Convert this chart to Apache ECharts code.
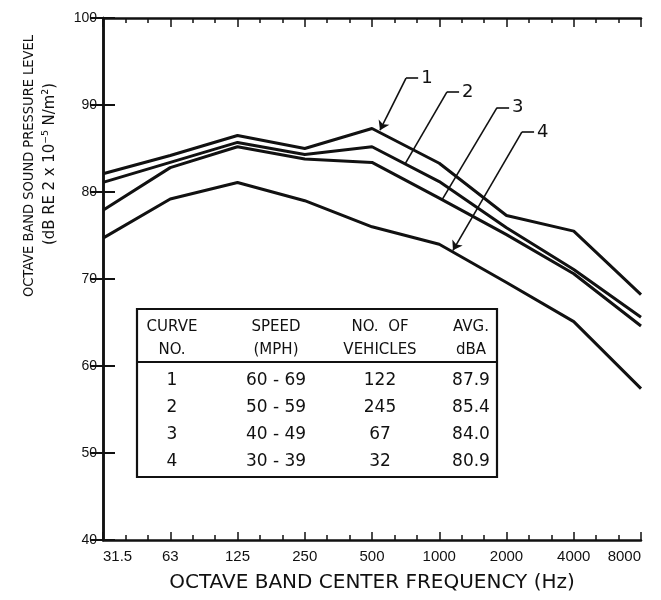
<!DOCTYPE html>
<html>
<head>
<meta charset="utf-8">
<script src="https://cdn.jsdelivr.net/npm/echarts@6/dist/echarts.min.js"></script>
<style>
  html, body { margin: 0; padding: 0; background: #fff; }
  #main { width: 661px; height: 600px; }
</style>
</head>
<body>
<div id="main"></div>
<script>
// octave band spectra, 4 speed groups

const freqLabels = ['31.5', '63', '125', '250', '500', '1000', '2000', '4000', '8000'];
const yTicks = [40, 100, 10];

const curve1 = [82.1, 84.2, 86.5, 85.0, 87.3, 83.3, 77.3, 75.5, 68.2];
const curve2 = [81.1, 83.4, 85.7, 84.3, 85.2, 81.2, 75.9, 71.1, 65.6];
const curve3 = [77.9, 82.8, 85.2, 83.8, 83.4, 79.3, 75.1, 70.6, 64.6];
const curve4 = [74.7, 79.2, 81.1, 79.0, 76.0, 74.0, 69.6, 65.1, 57.4];

// leader notes: label position and where the leader touches the curve
const noteLabels = ['1', '2', '3', '4'];
const noteAt = [[4.506, 93.1], [5.115, 91.5], [5.859, 89.7], [6.23, 86.9]];
const noteTip = [[4.119, 87.1], [4.49, 83.2], [5.041, 79.1], [5.204, 73.3]];
const noteArrow = [true, false, false, true];

// table
const tableHead = [['CURVE', 'NO.'], ['SPEED', '(MPH)'], ['NO.  OF', 'VEHICLES'], ['AVG.', 'dBA']];
const curveNos = ['1', '2', '3', '4'];
const speedRanges = ['60 - 69', '50 - 59', '40 - 49', '30 - 39'];
const vehicleCounts = [122, 245, 67, 32];
const avgDba = [87.9, 85.4, 84.0, 80.9];

const ink = '#111';
const font = '"Liberation Sans", Arial, sans-serif';
const wideFont = '"DejaVu Sans", "Liberation Sans", sans-serif';
const narrowFont = '"DejaVu Sans Condensed", "Liberation Sans Narrow", "Liberation Sans", sans-serif';

const chartDom = document.getElementById('main');
let chart = echarts.init(chartDom, null, { renderer: 'canvas' });

function toPairs(arr) {
    return arr.map((v, i) => [i, v]);
}

function noteMarks(k) {
    const at = noteAt[k];
    const tip = noteTip[k];
    return {
        silent: true,
        animation: false,
        symbol: 'none',
        lineStyle: { color: ink, width: 1.6, type: 'solid' },
        label: { show: false },
        data: [
            [
                { coord: at, symbol: 'none' },
                { coord: tip, symbol: noteArrow[k] ? 'arrow' : 'none', symbolSize: 9 }
            ],
            [
                { coord: at, symbol: 'none' },
                {
                    coord: [at[0] + 0.18, at[1]],
                    symbol: 'none',
                    label: {
                        show: true,
                        position: 'end',
                        formatter: noteLabels[k],
                        distance: 3,
                        color: ink,
                        fontSize: 18,
                        fontFamily: wideFont
                    }
                }
            ]
        ]
    };
}

const curves = [curve1, curve2, curve3, curve4];

let series = curves.map((c, k) => ({
    name: 'Curve ' + (k + 1),
    type: 'line',
    data: toPairs(c),
    showSymbol: false,
    animation: false,
    lineStyle: { color: ink, width: 3 },
    markLine: noteMarks(k)
}));

// table graphic
const tableX = 137, tableY = 309, tableW = 360, tableH = 168, headH = 53;
const colX = [35, 139, 243, 334];
const headY = [18, 41];
const rowY = [72, 99, 126, 153];

let tableChildren = [
    {
        type: 'rect',
        shape: { x: 0, y: 0, width: tableW, height: tableH },
        style: { fill: '#fff', stroke: ink, lineWidth: 2.2 }
    },
    {
        type: 'line',
        shape: { x1: 0, y1: headH, x2: tableW, y2: headH },
        style: { stroke: ink, lineWidth: 2.2 }
    }
];

tableHead.forEach((h, c) => {
    h.forEach((t, r) => {
        tableChildren.push({
            type: 'text',
            x: colX[c],
            y: headY[r],
            style: {
                text: t, fill: ink, font: '15px ' + wideFont,
                textAlign: 'center', textVerticalAlign: 'middle'
            }
        });
    });
});

const rowCols = [
    curveNos,
    speedRanges,
    vehicleCounts.map(String),
    avgDba.map(v => v.toFixed(1))
];

rowCols.forEach((col, c) => {
    col.forEach((t, r) => {
        tableChildren.push({
            type: 'text',
            x: colX[c],
            y: rowY[r],
            style: {
                text: t, fill: ink, font: '17px ' + wideFont,
                textAlign: 'center', textVerticalAlign: 'middle'
            }
        });
    });
});

let option = {
    backgroundColor: '#fff',
    grid: {
        left: 103,
        right: 20,
        top: 18,
        bottom: 60
    },
    xAxis: [
        {
            type: 'value',
            min: 0,
            max: freqLabels.length - 1,
            interval: 1,
            position: 'bottom',
            name: 'OCTAVE BAND CENTER FREQUENCY (Hz)',
            nameLocation: 'middle',
            nameGap: 33,
            nameTextStyle: { color: ink, fontSize: 20, fontFamily: wideFont },
            axisLine: { lineStyle: { color: ink, width: 2.5 } },
            axisTick: { inside: true, length: 8, lineStyle: { color: ink, width: 1.5 } },
            minorTick: { show: true, splitNumber: 3, length: 5, lineStyle: { color: ink, width: 1.5 } },
            axisLabel: {
                color: ink,
                fontSize: 15,
                fontFamily: font,
                margin: 9,
                alignMinLabel: 'left',
                alignMaxLabel: 'right',
                formatter: function (v) {
                    return freqLabels[Math.round(v)];
                }
            },
            splitLine: { show: false }
        },
        {
            type: 'value',
            min: 0,
            max: freqLabels.length - 1,
            interval: 1,
            position: 'top',
            axisLine: { lineStyle: { color: ink, width: 2.5 } },
            axisTick: { inside: true, length: 9, lineStyle: { color: ink, width: 1.5 } },
            minorTick: { show: true, splitNumber: 3, length: 5, lineStyle: { color: ink, width: 1.5 } },
            axisLabel: { show: false },
            splitLine: { show: false }
        }
    ],
    yAxis: [
        {
            type: 'value',
            min: yTicks[0],
            max: yTicks[1],
            interval: yTicks[2],
            position: 'left',
            axisLine: { show: true, lineStyle: { color: ink, width: 2.5 } },
            axisTick: { show: true, inside: true, length: 12, lineStyle: { color: ink, width: 2 } },
            axisLabel: { color: ink, fontSize: 14, fontFamily: font, margin: 6 },
            splitLine: { show: false }
        },
        {
            type: 'value',
            min: yTicks[0],
            max: yTicks[1],
            interval: yTicks[2],
            position: 'right',
            axisLine: { show: true, lineStyle: { color: ink, width: 2.5 } },
            axisTick: { show: true, inside: true, length: 12, lineStyle: { color: ink, width: 2 } },
            axisLabel: { show: false },
            splitLine: { show: false }
        }
    ],
    graphic: [
        {
            type: 'text',
            x: 29,
            y: 166,
            rotation: Math.PI / 2,
            style: {
                text: 'OCTAVE BAND SOUND PRESSURE LEVEL',
                fill: ink, font: '14.5px ' + narrowFont,
                textAlign: 'center', textVerticalAlign: 'middle'
            }
        },
        {
            type: 'text',
            x: 50,
            y: 164,
            rotation: Math.PI / 2,
            style: {
                text: '(dB RE 2 x 10\u207B\u2075 N/m\u00B2)',
                fill: ink, font: '16.5px ' + narrowFont,
                textAlign: 'center', textVerticalAlign: 'middle'
            }
        },
        {
            type: 'group',
            x: tableX,
            y: tableY,
            z: 100,
            children: tableChildren
        }
    ],
    series: series
};

option && chart.setOption(option);
</script>
</body>
</html>
